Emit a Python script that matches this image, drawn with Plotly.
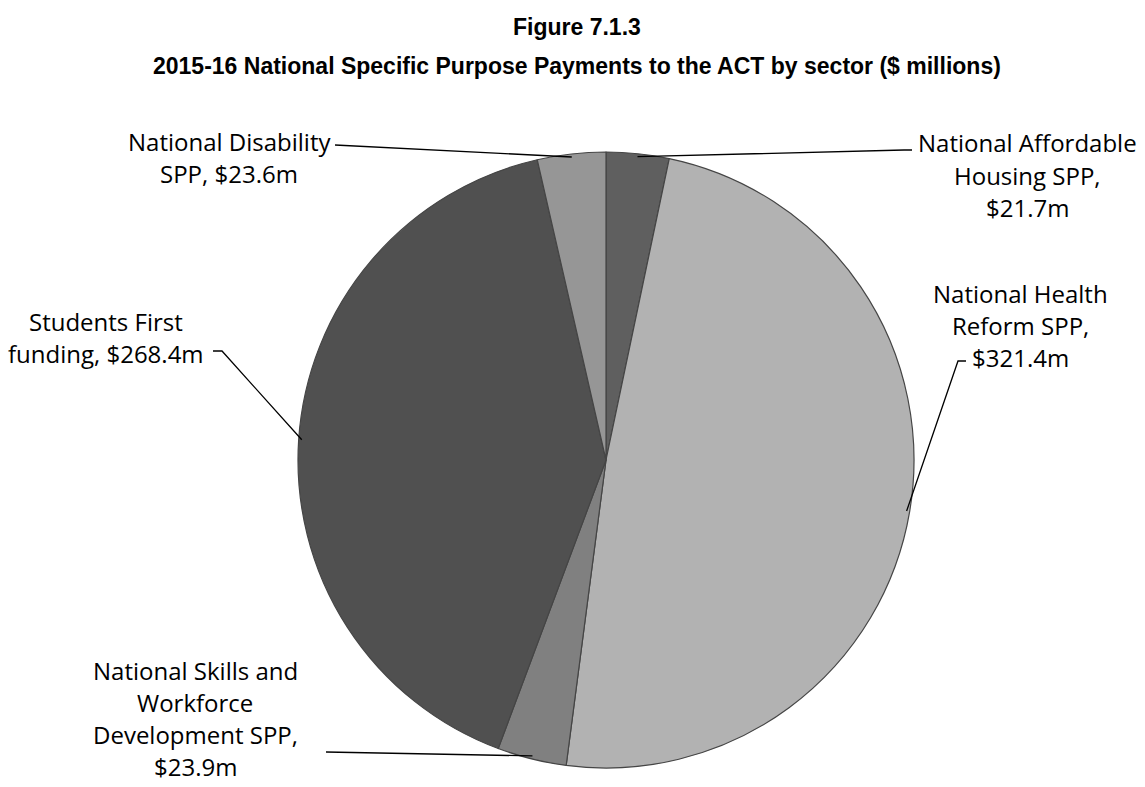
import math
import plotly.graph_objects as go

# Sector payments, $ millions, in clockwise order from 12 o'clock
sectors = [
    "National Affordable Housing SPP",
    "National Health Reform SPP",
    "National Skills and Workforce Development SPP",
    "Students First funding",
    "National Disability SPP",
]
values = [21.7, 321.4, 23.9, 268.4, 23.6]
label_lines = [
    ["National Affordable", "Housing SPP,", "$21.7m"],
    ["National Health", "Reform SPP,", "$321.4m"],
    ["National Skills and", "Workforce", "Development SPP,", "$23.9m"],
    ["Students First", "funding, $268.4m"],
    ["National Disability", "SPP, $23.6m"],
]
colors = ["#5f5f5f", "#b2b2b2", "#808080", "#505050", "#969696"]

W, H = 1145, 787
CX, CY, R = 606, 460, 308  # pie centre and radius in pixels

# label block centres (px) and leader-line anchor paths on the label side
label_pos = [(1027, 175), (1020, 325), (195, 718), (106, 337), (229, 157)]
leader_start = [
    [(912, 150), (904, 150)],
    [(966, 361), (958, 361)],
    [(326, 752)],
    [(213, 351), (222, 351)],
    [(335, 145)],
]


def px(x, y):
    return x / W, 1 - y / H


fig = go.Figure(
    go.Pie(
        labels=sectors,
        values=values,
        sort=False,
        direction="clockwise",
        rotation=0,
        textinfo="none",
        hoverinfo="label+value",
        marker=dict(colors=colors, line=dict(color="#454545", width=1.2)),
        domain=dict(
            x=[(CX - R) / W, (CX + R) / W],
            y=[1 - (CY + R) / H, 1 - (CY - R) / H],
        ),
        showlegend=False,
    )
)

total = sum(values)
cum = 0.0
shapes = []
annotations = []
LINE_H = 32
for i, v in enumerate(values):
    mid = (cum + v / 2) / total * 2 * math.pi
    cum += v
    ex = CX + 0.99 * R * math.sin(mid)
    ey = CY - 0.99 * R * math.cos(mid)
    pts = leader_start[i] + [(ex, ey)]
    path = "M " + " L ".join(
        f"{px(x, y)[0]:.5f},{px(x, y)[1]:.5f}" for x, y in pts
    )
    shapes.append(
        dict(type="path", path=path, xref="paper", yref="paper",
             line=dict(color="#000000", width=1.3))
    )
    lx, ly = label_pos[i]
    n = len(label_lines[i])
    for k, line in enumerate(label_lines[i]):
        yy = ly + (k - (n - 1) / 2) * LINE_H
        annotations.append(
            dict(text=line, x=px(lx, yy)[0], y=px(lx, yy)[1],
                 xref="paper", yref="paper", showarrow=False,
                 xanchor="center", yanchor="middle",
                 font=dict(family="Open Sans", size=24, color="#000000"))
        )

# two-line bold heading
for txt, yy in [("Figure 7.1.3", 27),
                ("2015-16 National Specific Purpose Payments to the ACT by sector ($ millions)", 66)]:
    annotations.append(
        dict(text=f"<b>{txt}</b>", x=px(577, yy)[0], y=px(577, yy)[1],
             xref="paper", yref="paper", showarrow=False,
             xanchor="center", yanchor="middle",
             font=dict(family="Liberation Sans", size=23, color="#000000"))
    )

fig.update_layout(
    width=W, height=H,
    margin=dict(l=0, r=0, t=0, b=0),
    paper_bgcolor="#ffffff", plot_bgcolor="#ffffff",
    shapes=shapes, annotations=annotations,
)

fig.write_html("out.html", config={"displayModeBar": False})
